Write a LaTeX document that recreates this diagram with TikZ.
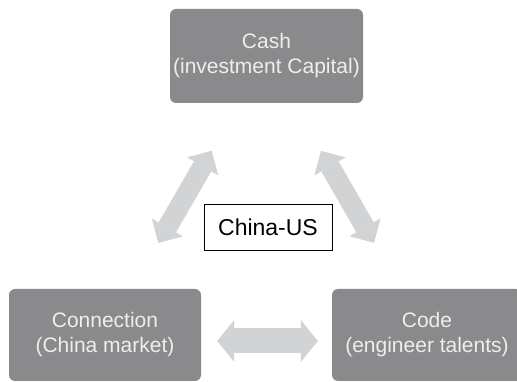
\documentclass[tikz,border=0pt]{standalone}
\usepackage{fontspec}
\setmainfont{Liberation Sans}
\usetikzlibrary{arrows.meta}

\newlength{\du}
\setlength{\du}{1pt}

\definecolor{boxgray}{RGB}{138,138,141}
\definecolor{boxtext}{RGB}{238,238,238}
\definecolor{arrowgray}{RGB}{210,211,213}

\tikzset{
  pillar/.style={fill=boxgray, text=boxtext, rounded corners=6\du, inner sep=0pt,
    align=center, font=\fontsize{21}{25}\selectfont},
  bothway/.style={draw=arrowgray, line width=25\du, <->,
    >={Triangle[length=17pt,width=42pt,line width=0pt]}},
  slantway/.style={draw=arrowgray, line width=20\du, <->,
    >={Triangle[length=18pt,width=36pt,line width=0pt]}}
}

\begin{document}
\begin{tikzpicture}
\useasboundingbox (0\du,0\du) rectangle (517\du,382\du);
% the three boxes
\node[pillar, minimum width=193\du, minimum height=94\du] (cash) at (266.5\du,326\du) {Cash\\(investment Capital)};
\node[pillar, minimum width=192\du, minimum height=92\du] (connection) at (105\du,47\du) {Connection\\(China market)};
\node[pillar, minimum width=190\du, minimum height=92\du] (code) at (427\du,47\du) {Code\\(engineer talents)};
% label in the middle
\node[draw=black, fill=white, line width=0.8\du, inner sep=0pt, minimum width=128\du, minimum height=46\du,
  font=\fontsize{23}{27}\selectfont] (chinaus) at (268\du,155\du) {China-US};
% double arrows
\draw[slantway, shorten <=53pt, shorten >=55pt] (connection) -- (cash);
\draw[slantway, shorten <=53pt, shorten >=55pt] (code) -- (cash);
\draw[bothway, shorten <=16pt, shorten >=14pt] ([yshift=-6pt]connection.east) -- ([yshift=-6pt]code.west);
\end{tikzpicture}
\end{document}
